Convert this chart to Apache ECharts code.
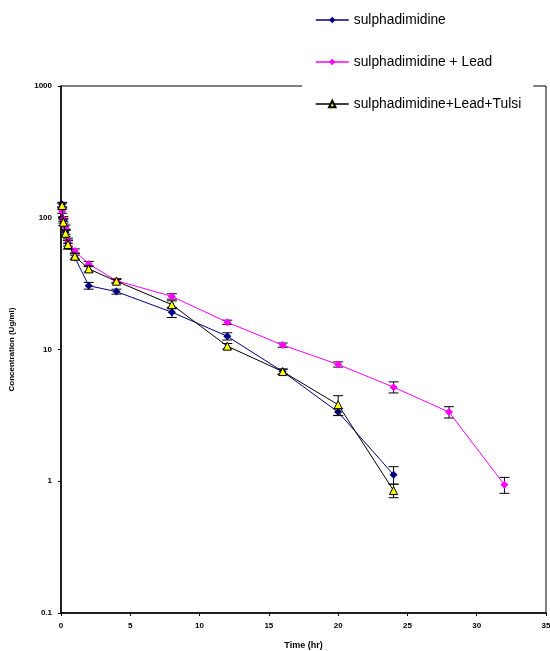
<!DOCTYPE html>
<html>
<head>
<meta charset="utf-8">
<script src="https://cdn.jsdelivr.net/npm/echarts@6/dist/echarts.min.js"></script>
<style>html,body{margin:0;padding:0;background:#fff}#c{width:550px;height:651px}</style>
</head>
<body>
<div id="c"></div>
<script>
const times = [0.083, 0.167, 0.33, 0.5, 1, 2, 4, 8, 12, 16, 20, 24];
const timesLead = [0.083, 0.167, 0.33, 0.5, 1, 2, 4, 8, 12, 16, 20, 24, 28, 32];
const sulpha = [126, 95, 78, 64, 50, 30.5, 27.5, 19.2, 12.6, 6.8, 3.35, 1.12];
const sulphaErr = [5, 4, 3, 3, 2, 1.8, 1.2, 1.7, 0.8, 0.3, 0.2, 0.17];
const lead = [112, 98, 85, 67, 56, 44.6, 33.3, 25.3, 16.1, 10.8, 7.7, 5.18, 3.35, 0.94];
const leadErr = [4, 4, 3, 3, 2, 2, 1.2, 1.2, 0.6, 0.4, 0.35, 0.5, 0.33, 0.13];
const tulsi = [124, 92.5, 76.3, 62.7, 51.1, 40.9, 33, 21.9, 10.6, 6.8, 3.81, 0.85];
const tulsiErr = [5, 5, 4, 5, 2.5, 2.2, 1, 1.5, 0.5, 0.3, 0.65, 0.1];
const seriesNames = ['sulphadimidine', 'sulphadimidine + Lead', 'sulphadimidine+Lead+Tulsi'];
const xTicks = [0, 5, 10, 15, 20, 25, 30, 35];
const yTicks = [0.1, 1, 10, 100, 1000];

function pts(t, v) { return t.map((x, i) => [x, v[i]]); }
function errs(t, v, e) { return t.map((x, i) => [x, v[i] - e[i], v[i] + e[i]]); }

function errRender(params, api) {
  const x = api.value(0);
  const lo = api.coord([x, api.value(1)]);
  const hi = api.coord([x, api.value(2)]);
  const w = 5;
  const st = { stroke: '#000', lineWidth: 1 };
  return {
    type: 'group',
    children: [
      { type: 'line', shape: { x1: lo[0], y1: lo[1], x2: hi[0], y2: hi[1] }, style: st },
      { type: 'line', shape: { x1: lo[0] - w, y1: lo[1], x2: lo[0] + w, y2: lo[1] }, style: st },
      { type: 'line', shape: { x1: hi[0] - w, y1: hi[1], x2: hi[0] + w, y2: hi[1] }, style: st }
    ]
  };
}

const chart = echarts.init(document.getElementById('c'), null, { renderer: 'canvas' });
const font = 'Liberation Sans, Arial, sans-serif';
chart.setOption({
  animation: false,
  backgroundColor: '#fff',
  textStyle: { fontFamily: font },
  grid: { left: 61, right: 4, top: 86, bottom: 38, show: true, borderColor: '#000', borderWidth: 1,
    containLabel: false, outerBoundsMode: 'none' },
  legend: {
    data: seriesNames,
    orient: 'vertical',
    left: 302, top: 0,
    padding: [13, 12, 12, 13],
    itemGap: 28,
    itemWidth: 33, itemHeight: 8,
    backgroundColor: '#fff',
    lineStyle: { width: 1.5 },
    textStyle: { fontSize: 13.8, color: '#000', fontFamily: font }
  },
  xAxis: {
    type: 'value', min: 0, max: 35, interval: 5,
    name: 'Time (hr)', nameLocation: 'middle', nameGap: 28,
    nameTextStyle: { fontSize: 9, fontWeight: 'bold', color: '#000' },
    axisLine: { lineStyle: { color: '#000', width: 1.5 } },
    axisTick: { show: true, inside: false, length: 3, lineStyle: { color: '#000' } },
    axisLabel: { fontSize: 8, fontWeight: 'bold', color: '#000', margin: 9,
      formatter: v => xTicks.includes(v) ? String(v) : '' },
    splitLine: { show: false }
  },
  yAxis: {
    type: 'log', logBase: 10, min: 0.1, max: 1000,
    name: 'Concentration (Ug/ml)', nameLocation: 'middle', nameGap: 45,
    nameTextStyle: { fontSize: 8, fontWeight: 'bold', color: '#000' },
    axisLine: { show: true, lineStyle: { color: '#000', width: 1.5 } },
    axisTick: { show: true, inside: false, length: 3, lineStyle: { color: '#000' } },
    axisLabel: { fontSize: 8, fontWeight: 'bold', color: '#000', margin: 9,
      formatter: v => { const r = yTicks.find(t => Math.abs(t - v) / t < 1e-6); return r === undefined ? '' : String(r); } },
    splitLine: { show: false },
    minorTick: { show: false }
  },
  series: [
    { name: 'err0', type: 'custom', renderItem: errRender, data: errs(times, sulpha, sulphaErr), encode: { x: 0, y: [1, 2] }, z: 2 },
    { name: seriesNames[0], type: 'line', data: pts(times, sulpha), symbol: 'diamond', symbolSize: 8,
      lineStyle: { color: '#000080', width: 1 }, itemStyle: { color: '#000080' }, z: 3 },
    { name: 'err1', type: 'custom', renderItem: errRender, data: errs(timesLead, lead, leadErr), encode: { x: 0, y: [1, 2] }, z: 4 },
    { name: seriesNames[1], type: 'line', data: pts(timesLead, lead), symbol: 'diamond', symbolSize: 8,
      lineStyle: { color: '#FF00FF', width: 1 }, itemStyle: { color: '#FF00FF' }, z: 5 },
    { name: 'err2', type: 'custom', renderItem: errRender, data: errs(times, tulsi, tulsiErr), encode: { x: 0, y: [1, 2] }, z: 6 },
    { name: seriesNames[2], type: 'line', data: pts(times, tulsi), symbol: 'triangle', symbolSize: 8,
      lineStyle: { color: '#000', width: 1 }, itemStyle: { color: '#FFFF00', borderColor: '#000', borderWidth: 1 }, z: 7 }
  ]
});
</script>
</body>
</html>
